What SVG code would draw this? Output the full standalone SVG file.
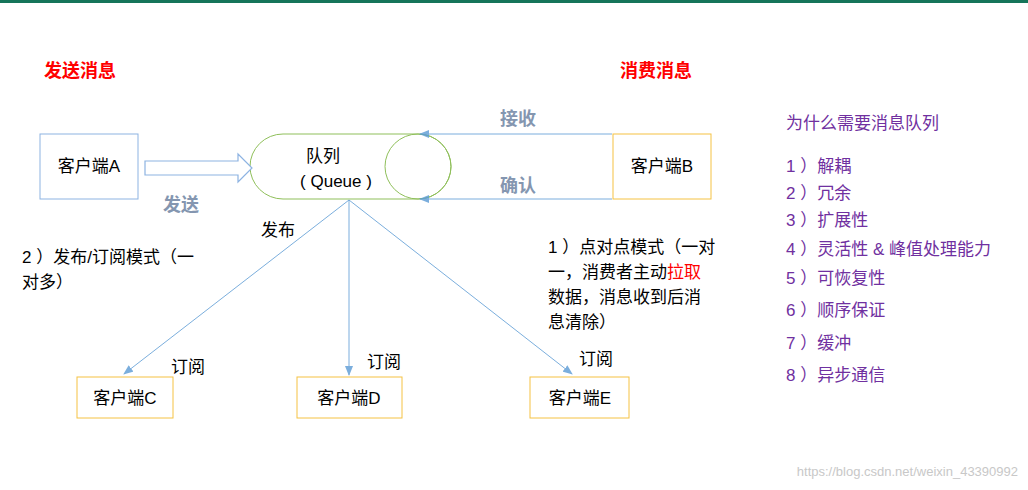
<svg xmlns="http://www.w3.org/2000/svg" width="1028" height="490" viewBox="0 0 1028 490">
<defs>
<style>
text{font-family:"Liberation Sans","Noto Sans CJK SC",sans-serif;}
.t{font-size:17px;fill:#000}
.red{font-size:18px;font-weight:bold;fill:#ff0000}
.gray{font-size:18px;font-weight:bold;fill:#8496b0}
.pur{font-size:17px;fill:#7030a0}
.ln{stroke:#5b9bd5;stroke-width:1;fill:none;opacity:.8}
</style>
<marker id="ah" markerWidth="10" markerHeight="8" refX="9" refY="4" orient="auto" markerUnits="userSpaceOnUse"><path d="M0,0L10,4L0,8z" fill="#5b9bd5"/></marker>
</defs>
<rect width="1028" height="490" fill="#fff"/>
<rect x="0" y="0" width="1028" height="3" fill="#16755a"/>
<text class="red" x="44" y="77">发送消息</text>
<text class="red" x="620" y="77">消费消息</text>
<g id="clientA"><rect x="40" y="134" width="98" height="65" fill="#fff" stroke="#8db3e2"/><text class="t" x="89" y="172" text-anchor="middle">客户端A</text></g>
<g id="queue"><path d="M283,134H418A33,32.5 0 0 1 418,199H283A33,32.5 0 0 1 283,134z" fill="#fff" stroke="#8fbf5a"/><ellipse cx="418" cy="166.5" rx="33" ry="32.5" fill="none" stroke="#8fbf5a"/><text class="t" x="323" y="162" text-anchor="middle">队列</text><text class="t" x="336" y="187" text-anchor="middle">( Queue )</text></g>
<g id="clientB"><rect x="613" y="134" width="98" height="65" fill="#fff" stroke="#f5c242"/><text class="t" x="662" y="172" text-anchor="middle">客户端B</text></g>
<g id="clientC"><rect x="77" y="377" width="96" height="41" fill="#fff" stroke="#f5c242"/><text class="t" x="125" y="404" text-anchor="middle">客户端C</text></g>
<g id="clientD"><rect x="297" y="377" width="105" height="41" fill="#fff" stroke="#f5c242"/><text class="t" x="349" y="404" text-anchor="middle">客户端D</text></g>
<g id="clientE"><rect x="530" y="377" width="99" height="41" fill="#fff" stroke="#f5c242"/><text class="t" x="580" y="404" text-anchor="middle">客户端E</text></g>
<g id="connectors">
<path d="M145,161H238V154L252,168L238,182V175H145z" fill="#fff" stroke="#8db3e2" stroke-width="1.2"/>
<line class="ln" x1="612" y1="134" x2="420" y2="134" marker-end="url(#ah)"/>
<line class="ln" x1="612" y1="199" x2="420" y2="199" marker-end="url(#ah)"/>
<line class="ln" x1="349" y1="200" x2="124" y2="374" marker-end="url(#ah)"/>
<line class="ln" x1="349" y1="200" x2="349" y2="375" marker-end="url(#ah)"/>
<line class="ln" x1="349" y1="200" x2="572" y2="374" marker-end="url(#ah)"/>
</g>
<text class="gray" x="163" y="211">发送</text>
<text class="gray" x="500" y="125">接收</text>
<text class="gray" x="500" y="192">确认</text>
<text class="t" x="261" y="236">发布</text>
<text class="t" x="171" y="373">订阅</text>
<text class="t" x="367" y="368">订阅</text>
<text class="t" x="579" y="365">订阅</text>
<text class="t" x="22" y="263">2 ）发布/订阅模式（一</text>
<text class="t" x="22" y="288">对多）</text>
<text class="t" x="548" y="253">1 ）点对点模式（一对</text>
<text class="t" x="548" y="278">一，消费者主动<tspan fill="#ff0000">拉取</tspan></text>
<text class="t" x="548" y="303">数据，消息收到后消</text>
<text class="t" x="548" y="328">息清除）</text>
<text class="pur" x="786" y="129">为什么需要消息队列</text>
<text class="pur" x="786" y="172">1 ）解耦</text>
<text class="pur" x="786" y="199">2 ）冗余</text>
<text class="pur" x="786" y="226">3 ）扩展性</text>
<text class="pur" x="786" y="255">4 ）灵活性 &amp; 峰值处理能力</text>
<text class="pur" x="786" y="284">5 ）可恢复性</text>
<text class="pur" x="786" y="316">6 ）顺序保证</text>
<text class="pur" x="786" y="349">7 ）缓冲</text>
<text class="pur" x="786" y="381">8 ）异步通信</text>
<text x="1018" y="476" text-anchor="end" font-size="13" fill="#c8c8c8">https://blog.csdn.net/weixin_43390992</text>
</svg>
